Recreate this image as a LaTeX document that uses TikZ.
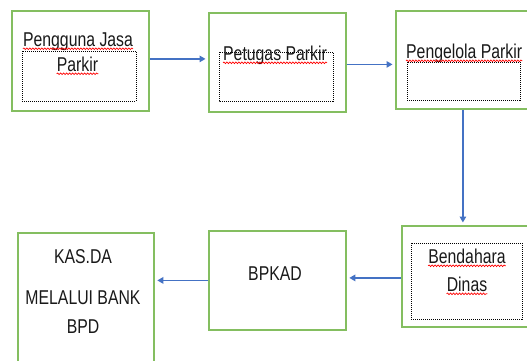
\documentclass[tikz,border=0pt]{standalone}
\usepackage{fontspec}
\newfontfamily\narrowsans[FakeStretch=0.79]{Liberation Sans}
\usetikzlibrary{arrows.meta,decorations.pathmorphing}
\definecolor{boxgreen}{RGB}{132,190,96}
\definecolor{arrowblue}{RGB}{68,114,196}
\definecolor{txtdark}{RGB}{25,25,25}
\tikzset{
  gbox/.style={draw=boxgreen, line width=1.8pt, rectangle, anchor=north west, inner sep=0pt, fill=none},
  dotbox/.style={draw=black, line width=0.9pt, dash pattern=on 1pt off 1pt},
  txt/.style={inner sep=0pt, anchor=base, text=txtdark, font=\narrowsans\fontsize{20pt}{24pt}\selectfont},
  squig/.style={draw=red, line width=0.7pt, decorate, decoration={snake, amplitude=0.8pt, segment length=3pt}},
  arr/.style={draw=arrowblue, line width=1.3pt, -{Triangle[length=6pt,width=6.5pt]}, shorten >=2.5pt}
}
\begin{document}
\begin{tikzpicture}[x=1pt,y=-1pt]
\useasboundingbox (0,0) rectangle (527,360);
\clip (0,0) rectangle (527,360);
% boxes
\node[gbox, minimum width=137pt, minimum height=100pt] (b1) at (11,10) {};
\node[gbox, minimum width=137pt, minimum height=99pt] (b2) at (208,12) {};
\node[gbox, minimum width=140pt, minimum height=98pt] (b3) at (395,10) {};
\node[gbox, minimum width=140pt, minimum height=101pt] (b4) at (401,225) {};
\node[gbox, minimum width=137pt, minimum height=99pt] (b5) at (208,230) {};
\node[gbox, minimum width=136pt, minimum height=140pt] (b6) at (17,232) {};
% dotted inner boxes
\draw[dotbox] (22,51) rectangle (136,101);
\draw[dotbox] (219,52) rectangle (333,101);
\draw[dotbox] (407,62) rectangle (520,100);
\draw[dotbox] (411,243) rectangle (522,319);
% texts
\node[txt] (t1a) at (78,46) {Pengguna Jasa};
\node[txt] (t1b) at (77.5,71) {Parkir};
\node[txt] (t2) at (275,60) {Petugas Parkir};
\node[txt, anchor=base west] (t3) at (406,58) {Pengelola Parkir};
\node[txt] (t4a) at (467,263) {Bendahara};
\node[txt] (t4b) at (467,291) {Dinas};
\node[txt] (t5) at (275,280) {BPKAD};
\node[txt] (t6a) at (83,263) {KAS.DA};
\node[txt] (t6b) at (83,304) {MELALUI BANK};
\node[txt] (t6c) at (83,333) {BPD};
% spell-check underlines
\foreach \n in {t1a,t1b,t2,t3,t4a,t4b}{
  \draw[squig] ([yshift=-2.8pt]\n.base west) -- ([yshift=-2.8pt]\n.base east);
}
% arrows
\draw[arr] ([yshift=2pt]b1.east) -- ([yshift=2pt]b1.east -| b2.west);
\draw[arr] ([yshift=-2pt]b2.east) -- ([yshift=-2pt]b2.east -| b3.west);
\draw[arr] ([xshift=-3pt]b3.south) -- ([xshift=-3pt]b3.south |- b4.north);
\draw[arr] ([yshift=-1.5pt]b4.west) -- ([yshift=-1.5pt]b4.west -| b5.east);
\draw[arr] (b5.west) -- (b5.west -| b6.east);
\end{tikzpicture}
\end{document}
